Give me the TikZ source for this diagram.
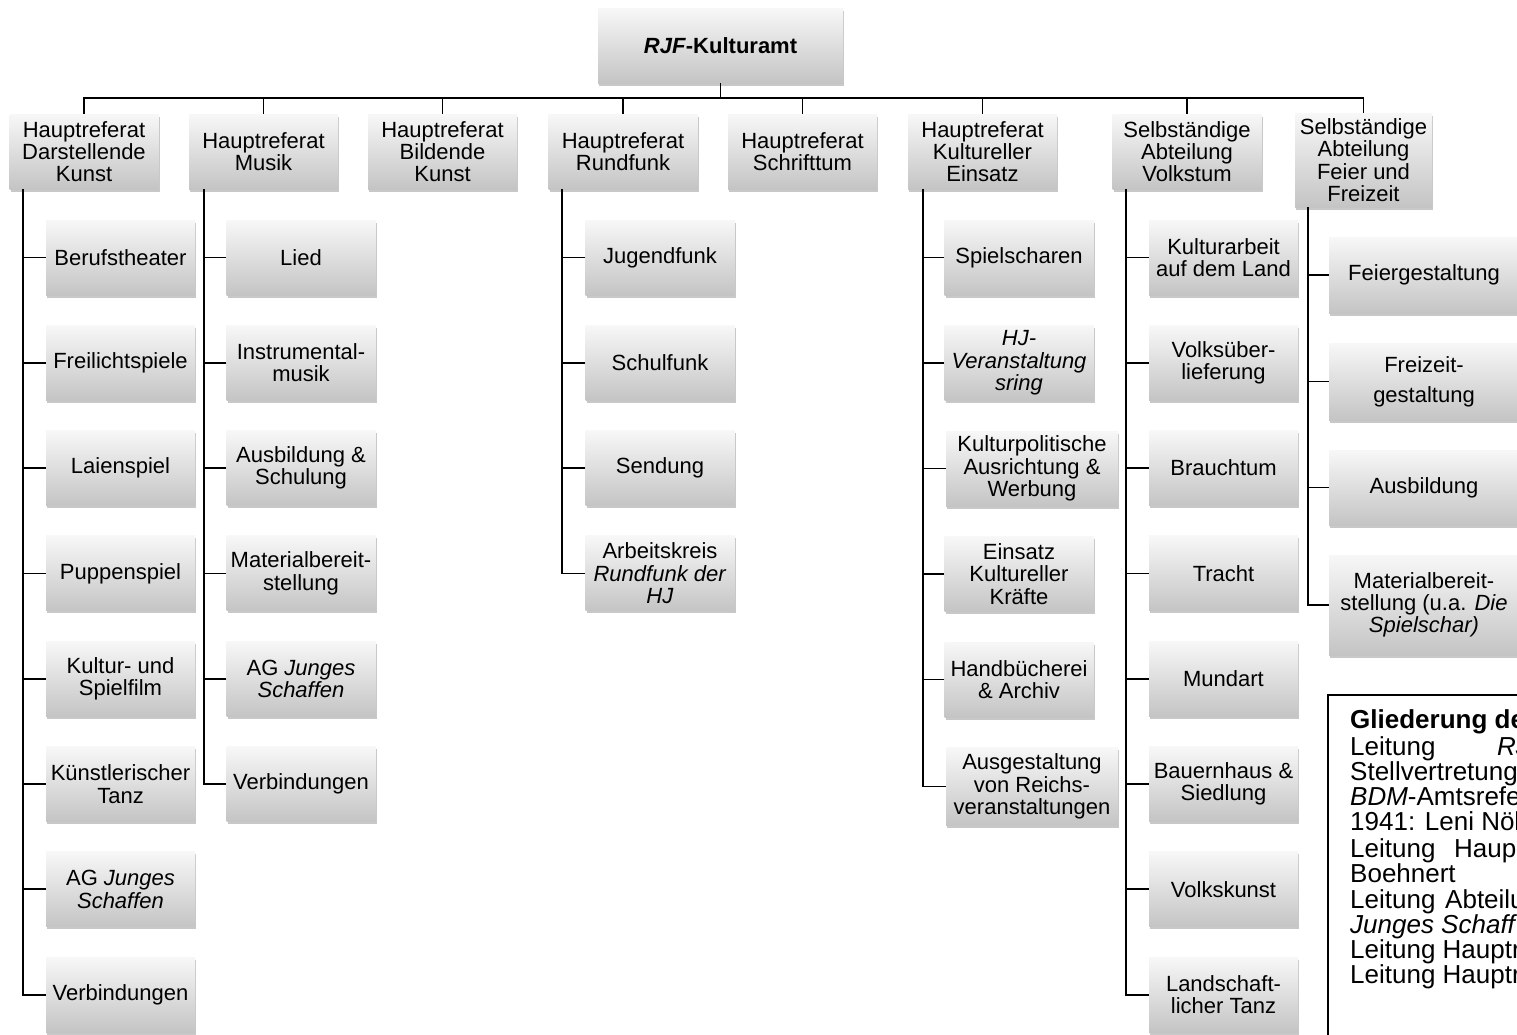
\documentclass[tikz,border=0pt]{standalone}
\usepackage{fontspec}
\setmainfont{Liberation Sans}
\usetikzlibrary{shadows}
\newcommand\bxfont{\fontsize{22}{22.3}\selectfont}
\newcommand\lgfont{\fontsize{26}{25.5}\selectfont}
\begin{document}
\begin{tikzpicture}[x=1pt,y=-1pt,
  box/.style={rectangle, align=center, inner sep=2pt,
    top color=white!97!black, bottom color=white!77!black,
    drop shadow={shadow xshift=1.2pt, shadow yshift=-2.5pt, opacity=0.3, fill=black!70},
    font=\bxfont, minimum height=75pt, minimum width=149pt},
  conn/.style={line width=1.8pt, black},
  lg/.style={anchor=base west, inner sep=0pt, font=\lgfont}]
\useasboundingbox (0,0) rectangle (1517,1034);
\fill[white] (0,0) rectangle (1517,1034);
\clip (0,0) rectangle (1517,1034);

% top
\node[box, minimum width=245pt, minimum height=75pt] (top) at (720.5,45.5) {\textbf{\textit{RJF}-Kulturamt}};

% level 1
\begin{scope}[every node/.append style={minimum width=148pt, minimum height=77pt}]
\node[box] (d1) at (84,151.5) {Hauptreferat\\Darstellende\\Kunst};
\node[box] (d2) at (263.5,151.5) {Hauptreferat\\Musik};
\node[box] (d3) at (442.5,151.5) {Hauptreferat\\Bildende\\Kunst};
\node[box] (d4) at (623,151.5) {Hauptreferat\\Rundfunk};
\node[box] (d5) at (802.5,151.5) {Hauptreferat\\Schrifttum};
\node[box] (d6) at (982.5,151.5) {Hauptreferat\\Kultureller\\Einsatz};
\node[box] (d7) at (1187,151.5) {Selbständige\\Abteilung\\Volkstum};
\end{scope}
\node[box, minimum width=137pt, minimum height=94pt] (d8) at (1363.5,160) {Selbständige\\Abteilung\\Feier und\\Freizeit};

\coordinate (bus) at (720.5,98);
\foreach \n in {d1,d2,d3,d4,d5,d6,d7,d8}
  \draw[conn] (top.south) -- (bus) -| (\n.north);

% Darstellende Kunst
\node[box] (a1) at (120.5,257.5) {Berufstheater};
\node[box] (a2) at (120.5,362.8) {Freilichtspiele};
\node[box] (a3) at (120.5,468.1) {Laienspiel};
\node[box] (a4) at (120.5,573.4) {Puppenspiel};
\node[box] (a5) at (120.5,678.7) {Kultur- und\\Spielfilm};
\node[box] (a6) at (120.5,784) {Künstlerischer\\Tanz};
\node[box] (a7) at (120.5,889.3) {AG \textit{Junges}\\\textit{Schaffen}};
\node[box] (a8) at (120.5,994.6) {Verbindungen};
\coordinate (s1) at ([xshift=14pt]d1.south west);
\foreach \c in {a1,a2,a3,a4,a5,a6,a7}
  \draw[conn] (\c.west) -- (\c.west -| s1);
\draw[conn] (s1) |- (a8.west);

% Musik
\node[box] (b1) at (301,257.5) {Lied};
\node[box] (b2) at (301,362.8) {Instrumental-\\musik};
\node[box] (b3) at (301,468.1) {Ausbildung \&\\Schulung};
\node[box] (b4) at (301,573.4) {Materialbereit-\\stellung};
\node[box] (b5) at (301,678.7) {AG \textit{Junges}\\\textit{Schaffen}};
\node[box] (b6) at (301,784) {Verbindungen};
\coordinate (s2) at ([xshift=15pt]d2.south west);
\foreach \c in {b1,b2,b3,b4,b5}
  \draw[conn] (\c.west) -- (\c.west -| s2);
\draw[conn] (s2) |- (b6.west);

% Rundfunk
\node[box] (c1) at (660,257.5) {Jugendfunk};
\node[box] (c2) at (660,362.8) {Schulfunk};
\node[box] (c3) at (660,468.1) {Sendung};
\node[box] (c4) at (660,573.4) {Arbeitskreis\\\textit{Rundfunk der}\\\textit{HJ}};
\coordinate (s4) at ([xshift=14pt]d4.south west);
\foreach \c in {c1,c2,c3}
  \draw[conn] (\c.west) -- (\c.west -| s4);
\draw[conn] (s4) |- (c4.west);

% Kultureller Einsatz
\node[box] (e1) at (1019,257.5) {Spielscharen};
\node[box] (e2) at (1019,362.8) {\textit{HJ-}\\\textit{Veranstaltung}\\\textit{sring}};
\node[box, minimum width=172pt] (e3) at (1032,468.5) {Kulturpolitische\\Ausrichtung \&\\Werbung};
\node[box] (e4) at (1019,574) {Einsatz\\Kultureller\\Kräfte};
\node[box] (e5) at (1019,679.5) {Handbücherei\\\& Archiv};
\node[box, minimum width=172pt, minimum height=78pt] (e6) at (1032,786.5) {Ausgestaltung\\von Reichs-\\veranstaltungen};
\coordinate (s6) at ([xshift=15pt]d6.south west);
\foreach \c in {e1,e2,e3,e4,e5}
  \draw[conn] (\c.west) -- (\c.west -| s6);
\draw[conn] (s6) |- (e6.west);

% Volkstum
\node[box] (f1) at (1223.5,257.5) {Kulturarbeit\\auf dem Land};
\node[box] (f2) at (1223.5,362.8) {Volksüber-\\lieferung};
\node[box] (f3) at (1223.5,468.1) {Brauchtum};
\node[box] (f4) at (1223.5,573.4) {Tracht};
\node[box] (f5) at (1223.5,678.7) {Mundart};
\node[box] (f6) at (1223.5,784) {Bauernhaus \&\\Siedlung};
\node[box] (f7) at (1223.5,889.3) {Volkskunst};
\node[box] (f8) at (1223.5,994.6) {Landschaft-\\licher Tanz};
\coordinate (s7) at ([xshift=14pt]d7.south west);
\foreach \c in {f1,f2,f3,f4,f5,f6,f7}
  \draw[conn] (\c.west) -- (\c.west -| s7);
\draw[conn] (s7) |- (f8.west);

% Feier und Freizeit
\node[box, minimum width=190pt, minimum height=76pt] (g1) at (1424,275) {Feiergestaltung};
\node[box, minimum width=190pt, minimum height=77pt] (g2) at (1424,381.5) {Freizeit-\\[8pt]gestaltung};
\node[box, minimum width=190pt, minimum height=75pt] (g3) at (1424,487.5) {Ausbildung};
\node[box, minimum width=190pt, minimum height=100pt] (g4) at (1424,605) {Materialbereit-\\stellung (u.a. \textit{Die}\\\textit{Spielschar)}};
\coordinate (s8) at ([xshift=13pt]d8.south west);
\foreach \c in {g1,g2,g3}
  \draw[conn] (\c.west) -- (\c.west -| s8);
\draw[conn] (s8) |- (g4.west);

% legend
\draw[line width=1.4pt, fill=white] (1328,695) rectangle (1560,1060);
\node[lg] (l1) at (1350,728) {\textbf{Gliederung de}};
\node[lg] (l2) at (1350,755) {Leitung};
\node[lg] (l2b) at (1497,755) {\textit{RJ}};
\node[lg] (l3) at (1350,780) {Stellvertretung};
\node[lg] (l4) at (1350,805) {\textit{BDM}-Amtsrefe};
\node[lg] (l5) at (1350,830) {1941: Leni Nöl};
\node[lg] (l6) at (1350,857) {Leitung};
\node[lg] (l6b) at (1454,857) {Haup};
\node[lg] (l7) at (1350,882) {Boehnert};
\node[lg] (l8) at (1350,908) {Leitung};
\node[lg] (l8b) at (1445,908) {Abteilu};
\node[lg] (l9) at (1350,933) {\textit{Junges Schaff}};
\node[lg] (l10) at (1350,958) {Leitung Hauptr};
\node[lg] (l11) at (1350,983) {Leitung Hauptr};
\end{tikzpicture}
\end{document}
